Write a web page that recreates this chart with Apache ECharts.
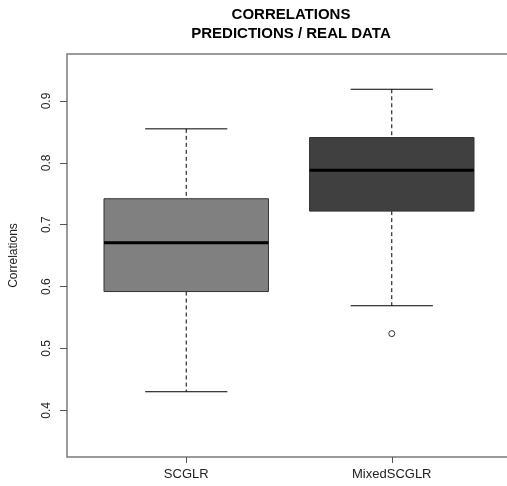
<!DOCTYPE html>
<html>
<head>
<meta charset="utf-8">
<script src="https://cdn.jsdelivr.net/npm/echarts@6/dist/echarts.min.js"></script>
<style>
html,body{margin:0;padding:0;background:#fff;overflow:hidden;}
#chart{width:507px;height:486px;}
</style>
</head>
<body>
<div id="chart"></div>
<script>
// ---- data ----
var categories = ['SCGLR', 'MixedSCGLR'];
var lowerWhisker = [0.430, 0.569];
var q1 = [0.592, 0.722];
var median = [0.671, 0.788];
var q3 = [0.742, 0.841];
var upperWhisker = [0.855, 0.919];
var outliers = [[2, 0.524]];
var yTicks = [0.4, 0.5, 0.6, 0.7, 0.8, 0.9];
var boxColors = ['#808080', '#404040'];

var boxData = categories.map(function (c, i) {
  return [i + 1, lowerWhisker[i], q1[i], median[i], q3[i], upperWhisker[i]];
});

var chart = echarts.init(document.getElementById('chart'), null, {renderer: 'canvas'});
var FONT = '"Liberation Sans", Arial, sans-serif';

chart.setOption({
  animation: false,
  backgroundColor: '#ffffff',
  title: {
    text: 'CORRELATIONS\nPREDICTIONS / REAL DATA',
    left: 286,
    top: 0,
    textAlign: 'center',
    textStyle: {fontFamily: FONT, fontSize: 15, fontWeight: 'bold', color: '#000', lineHeight: 19}
  },
  grid: {
    left: 67, width: 444, top: 54, bottom: 29,
    outerBoundsMode: 'none', containLabel: false,
    show: true, borderColor: '#7a7a7a', borderWidth: 1.5, backgroundColor: 'transparent'
  },
  xAxis: {
    type: 'value', min: 0.42, max: 2.58,
    splitLine: {show: false},
    axisLine: {show: false},
    axisTick: {show: true, length: 6, customValues: [1, 2], lineStyle: {color: '#555', width: 1}},
    axisLabel: {
      customValues: [1, 2], margin: 11,
      fontFamily: FONT, fontSize: 13, color: '#222',
      formatter: function (v) { return categories[Math.round(v) - 1] || ''; }
    }
  },
  yAxis: {
    type: 'value', min: 0.3245, max: 0.976,
    name: 'Correlations', nameLocation: 'middle', nameRotate: 90, nameGap: 47,
    nameTextStyle: {fontFamily: FONT, fontSize: 12, color: '#222'},
    splitLine: {show: false},
    axisLine: {show: false},
    axisTick: {show: true, length: 7, customValues: yTicks, lineStyle: {color: '#555', width: 1}},
    axisLabel: {
      customValues: yTicks, rotate: 90, margin: 14,
      fontFamily: FONT, fontSize: 12, color: '#222',
      formatter: function (v) { return v.toFixed(1); }
    }
  },
  series: [
    {
      type: 'custom',
      data: boxData,
      encode: {x: 0, y: [1, 2, 3, 4, 5]},
      renderItem: function (params, api) {
        var x = api.value(0);
        var i = params.dataIndex;
        var lo = api.coord([x, api.value(1)]);
        var p1 = api.coord([x, api.value(2)]);
        var pm = api.coord([x, api.value(3)]);
        var p3 = api.coord([x, api.value(4)]);
        var hi = api.coord([x, api.value(5)]);
        var halfBox = api.size([0.4, 0])[0];
        var halfCap = api.size([0.2, 0])[0];
        var cx = lo[0];
        return {
          type: 'group',
          children: [
            {type: 'line', shape: {x1: cx, y1: hi[1], x2: cx, y2: p3[1]},
              style: {stroke: '#000', lineWidth: 1, lineDash: [4, 3]}},
            {type: 'line', shape: {x1: cx, y1: p1[1], x2: cx, y2: lo[1]},
              style: {stroke: '#000', lineWidth: 1, lineDash: [4, 3]}},
            {type: 'line', shape: {x1: cx - halfCap, y1: hi[1], x2: cx + halfCap, y2: hi[1]},
              style: {stroke: '#000', lineWidth: 1}},
            {type: 'line', shape: {x1: cx - halfCap, y1: lo[1], x2: cx + halfCap, y2: lo[1]},
              style: {stroke: '#000', lineWidth: 1}},
            {type: 'rect', shape: {x: cx - halfBox, y: p3[1], width: 2 * halfBox, height: p1[1] - p3[1]},
              style: {fill: boxColors[i], stroke: '#333', lineWidth: 1}},
            {type: 'line', shape: {x1: cx - halfBox, y1: pm[1], x2: cx + halfBox, y2: pm[1]},
              style: {stroke: '#000', lineWidth: 3}}
          ]
        };
      }
    },
    {
      type: 'scatter',
      data: outliers,
      symbol: 'circle',
      symbolSize: 6,
      itemStyle: {color: '#fff', borderColor: '#000', borderWidth: 1}
    }
  ]
});
</script>
</body>
</html>
